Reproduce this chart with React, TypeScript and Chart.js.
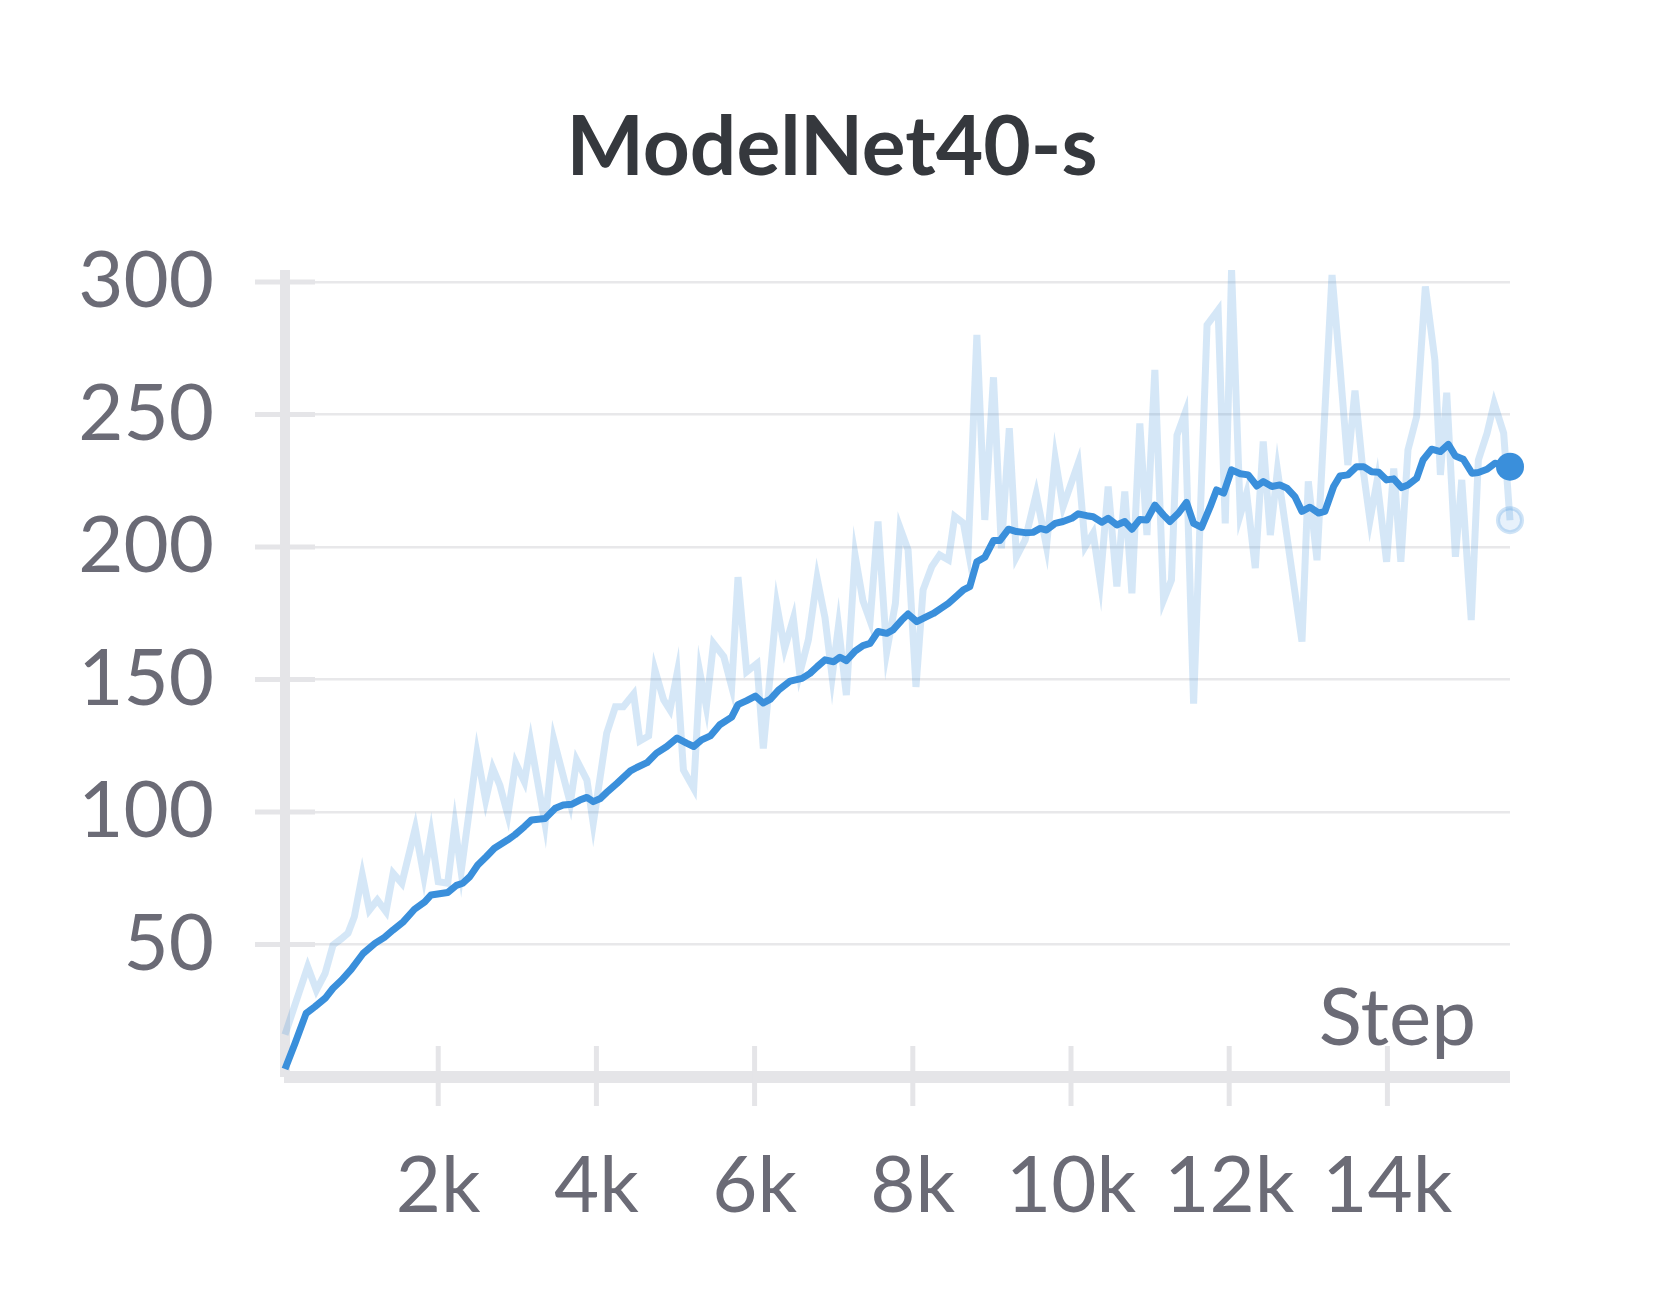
import { useEffect, useRef } from 'react';
import { Chart, registerables } from 'chart.js';

Chart.register(...registerables);

// Raw (unsmoothed) run values
const rawSteps = [
  63, 350, 460, 570, 670, 770, 860, 940, 1040, 1130, 1230, 1340, 1430, 1540, 1710, 1820, 1910, 2000, 2120, 2210,
  2290, 2490, 2600, 2690, 2780, 2880, 2980, 3090, 3170, 3350, 3460, 3670, 3750, 3880, 3960, 4130, 4240, 4340, 4470, 4550,
  4660, 4740, 4850, 4930, 5020, 5100, 5230, 5310, 5390, 5480, 5610, 5710, 5790, 5900, 6030, 6110, 6280, 6380, 6490, 6570,
  6680, 6790, 6890, 6980, 7060, 7160, 7270, 7370, 7460, 7560, 7670, 7780, 7840, 7940, 8040, 8130, 8240, 8340, 8450, 8530,
  8640, 8700, 8810, 8910, 9020, 9120, 9220, 9310, 9420, 9560, 9690, 9800, 9900, 10090, 10180, 10280, 10370, 10470, 10580, 10680,
  10770, 10870, 10960, 11060, 11170, 11270, 11340, 11440, 11550, 11720, 11860, 11950, 12030, 12140, 12220, 12330, 12430, 12520, 12610, 12920,
  13000, 13110, 13300, 13400, 13500, 13590, 13680, 13780, 13870, 13990, 14080, 14170, 14260, 14370, 14480, 14600, 14670, 14750, 14860, 14940,
  15060, 15150, 15260, 15350, 15470, 15550,
];
const rawValues = [
  16, 41.6, 32.8, 39.1, 49.8, 52, 54.3, 60.5, 76.2, 63, 66.8, 62.4, 76.9, 73.1, 93.8, 75.6, 91.6, 73.7, 73.1, 95.1,
  77.5, 122.2, 104.5, 116.5, 110, 98.9, 118.4, 111.4, 126.2, 95.7, 127.4, 103.3, 119.6, 112, 95.7, 129.7, 139.7, 139.7, 144.5, 126.8,
  128.7, 153.6, 142.3, 138.5, 152.3, 115.8, 108.9, 152.3, 139.7, 163.6, 158.6, 147.3, 188.6, 152.9, 156, 124, 178.1, 161.7, 173, 152.3,
  165, 188.2, 173.3, 151.1, 170.1, 144.1, 196.9, 179.7, 172.2, 209.6, 160.5, 178.7, 207.1, 198.9, 147.2, 183.8, 192.6, 197, 195.1, 211.5,
  209, 198.9, 280, 210.2, 264, 199.5, 244.8, 196.3, 202.6, 220, 200.2, 233.4, 215.2, 231.5, 200.2, 205.2, 187, 222.8, 185.1, 220.9,
  182.5, 246.6, 204.5, 266.8, 180, 187.5, 242.2, 250.4, 140.9, 283.8, 289.4, 208.9, 304.5, 212.2, 220.3, 192, 239.8, 204.5, 229, 164.3,
  224.7, 195, 302.6, 268, 230.9, 259, 232, 210.1, 225, 194.4, 229.6, 194.4, 236.6, 249.2, 298.3, 270.6, 227.2, 258.2, 196.3, 225.3,
  172.4, 232.8, 242.9, 254.2, 242.9, 210.1,
];

// Smoothed line
const smoothSteps = [
  63, 190, 330, 440, 570, 670, 780, 900, 1050, 1200, 1320, 1430, 1560, 1700, 1830, 1910, 2120, 2230, 2310, 2400,
  2500, 2610, 2710, 2880, 2970, 3090, 3180, 3350, 3480, 3580, 3690, 3790, 3880, 3960, 4050, 4130, 4260, 4430, 4510, 4640,
  4760, 4890, 5020, 5140, 5230, 5330, 5440, 5560, 5710, 5790, 5900, 6010, 6110, 6200, 6300, 6450, 6600, 6700, 6790, 6890,
  7000, 7080, 7160, 7270, 7370, 7460, 7560, 7670, 7750, 7860, 7940, 8050, 8150, 8260, 8370, 8450, 8560, 8640, 8720, 8810,
  8910, 9020, 9100, 9210, 9310, 9420, 9520, 9610, 9690, 9800, 9900, 10010, 10090, 10200, 10280, 10390, 10470, 10580, 10680, 10770,
  10870, 10960, 11060, 11170, 11250, 11360, 11460, 11550, 11650, 11760, 11840, 11930, 12030, 12140, 12240, 12350, 12430, 12540, 12640, 12730,
  12830, 12920, 13020, 13130, 13210, 13320, 13400, 13500, 13610, 13700, 13800, 13890, 13990, 14080, 14180, 14260, 14370, 14450, 14560, 14670,
  14770, 14860, 14960, 15070, 15150, 15260, 15360, 15550,
];
const smoothValues = [
  3, 12.7, 24, 26.5, 29.7, 33.5, 36.6, 40.6, 46.6, 50.4, 52.7, 55.5, 58.6, 63.3, 66.1, 68.7, 69.6, 72.3, 73.1, 75.6,
  80, 83.2, 86.3, 89.5, 91.4, 94.5, 97, 97.5, 101.4, 102.6, 102.9, 104.5, 105.5, 103.9, 105.1, 107.4, 110.8, 115.5, 116.8, 118.6,
  122.2, 124.7, 127.9, 126, 124.7, 127.2, 128.7, 132.9, 135.8, 140.5, 142, 143.7, 141.1, 142.6, 145.9, 149.4, 150.4, 152.3, 154.8, 157.4,
  156.7, 158.4, 157.1, 160.7, 162.8, 163.6, 168.1, 167.4, 168.7, 172.4, 174.7, 171.8, 173.3, 174.9, 177.1, 178.7, 181.6, 183.8, 185, 194.4,
  196.1, 202.4, 202.4, 206.7, 205.8, 205.4, 205.5, 207, 206.4, 208.9, 209.6, 210.8, 212.5, 211.8, 211.4, 209.3, 210.8, 208.3, 209.6, 206.7,
  210.4, 210.2, 215.8, 212, 209.6, 212.8, 216.8, 208.9, 207.4, 215.2, 221.5, 220.3, 229.1, 227.6, 227.2, 223, 224.7, 222.8, 223.4, 222.2,
  219, 213.4, 215, 212.8, 213.4, 222.8, 226.8, 227.2, 230.3, 230.3, 228.4, 228.2, 225.3, 225.7, 222.4, 223.4, 225.9, 232.8, 236.9, 236,
  238.7, 234.3, 233.1, 227.8, 228.1, 229.3, 231.6, 230.3,
];

const xTickValues = [2000, 4000, 6000, 8000, 10000, 12000, 14000];
const yTickValues = [50, 100, 150, 200, 250, 300];

const TITLE = 'ModelNet40-s';
const BLUE = '#3a8fdb';
const AXIS = '#e5e5e8';
const LABEL = '#6b6b76';
const FONT = 'Lato';

// W&B style axes: thick light lines, tick marks crossing the axis, "Step" inside the plot,
// and the panel title centred on the whole panel
const axesPlugin = {
  id: 'wbAxes',
  beforeDatasetsDraw(chart: Chart) {
    const { ctx, chartArea } = chart;
    const xs = chart.scales.x;
    const ys = chart.scales.y;
    ctx.save();
    ctx.strokeStyle = AXIS;
    ctx.lineCap = 'butt';

    ctx.lineWidth = 10;
    ctx.beginPath();
    ctx.moveTo(chartArea.left, chartArea.top);
    ctx.lineTo(chartArea.left, chartArea.bottom);
    ctx.stroke();

    ctx.lineWidth = 12;
    ctx.beginPath();
    ctx.moveTo(chartArea.left - 1, chartArea.bottom);
    ctx.lineTo(chartArea.right, chartArea.bottom);
    ctx.stroke();

    ctx.lineWidth = 5;
    yTickValues.forEach((v) => {
      const py = ys.getPixelForValue(v);
      ctx.beginPath();
      ctx.moveTo(chartArea.left - 30, py);
      ctx.lineTo(chartArea.left + 30, py);
      ctx.stroke();
    });
    xTickValues.forEach((v) => {
      const px = xs.getPixelForValue(v);
      ctx.beginPath();
      ctx.moveTo(px, chartArea.bottom - 31);
      ctx.lineTo(px, chartArea.bottom + 29);
      ctx.stroke();
    });

    ctx.fillStyle = LABEL;
    ctx.font = `400 80px ${FONT}`;
    ctx.textAlign = 'right';
    ctx.textBaseline = 'alphabetic';
    ctx.fillText('Step', chartArea.right - 34, chartArea.bottom - 32);

    ctx.fillStyle = '#35383d';
    ctx.font = `700 82px ${FONT}`;
    ctx.textAlign = 'center';
    ctx.fillText(TITLE, 832, 175);
    ctx.restore();
  },
};

const App = () => {
  const chartRef = useRef<HTMLCanvasElement>(null);
  const chartInstance = useRef<Chart | null>(null);

  useEffect(() => {
    if (!chartRef.current) return;
    if (chartInstance.current) chartInstance.current.destroy();

    const rawLast = rawValues.length - 1;
    const smoothLast = smoothValues.length - 1;

    chartInstance.current = new Chart(chartRef.current, {
      type: 'line',
      data: {
        datasets: [
          {
            label: 'smoothed',
            data: smoothSteps.map((s, i) => ({ x: s, y: smoothValues[i] })),
            borderColor: BLUE,
            backgroundColor: BLUE,
            borderWidth: 7,
            borderJoinStyle: 'round',
            tension: 0,
            pointRadius: (c: any) => (c.dataIndex === smoothLast ? 14 : 0),
            pointBorderWidth: 0,
            pointBackgroundColor: BLUE,
            clip: 16,
          },
          {
            label: 'raw',
            data: rawSteps.map((s, i) => ({ x: s, y: rawValues[i] })),
            borderColor: 'rgba(58, 143, 219, 0.21)',
            backgroundColor: 'rgba(58, 143, 219, 0.12)',
            borderWidth: 7,
            tension: 0,
            pointRadius: (c: any) => (c.dataIndex === rawLast ? 12 : 0),
            pointBorderWidth: 4,
            pointBorderColor: 'rgba(58, 143, 219, 0.25)',
            pointBackgroundColor: 'rgba(58, 143, 219, 0.12)',
            clip: 16,
          },
        ],
      },
      options: {
        responsive: true,
        maintainAspectRatio: false,
        animation: false,
        layout: { padding: { top: 270, right: 150, bottom: 0, left: 0 } },
        plugins: {
          legend: { display: false },
          tooltip: { enabled: false },
          title: { display: false },
        },
        scales: {
          x: {
            type: 'linear',
            min: 63,
            max: 15550,
            grid: { display: false },
            border: { display: false },
            afterBuildTicks: (scale: any) => {
              scale.ticks = xTickValues.map((v) => ({ value: v }));
            },
            afterFit: (scale: any) => {
              scale.height = 233;
            },
            ticks: {
              color: LABEL,
              font: { family: FONT, size: 78, lineHeight: 1.2 },
              padding: 55,
              maxRotation: 0,
              autoSkip: false,
              callback: (v: any) => `${Number(v) / 1000}k`,
            },
          },
          y: {
            min: 0,
            max: 304.5,
            grid: { color: '#e8e8ea', lineWidth: 2.5, drawTicks: false },
            border: { display: false },
            afterBuildTicks: (scale: any) => {
              scale.ticks = yTickValues.map((v) => ({ value: v }));
            },
            afterFit: (scale: any) => {
              scale.width = 285;
            },
            ticks: {
              color: LABEL,
              font: { family: FONT, size: 78 },
              padding: 71,
              callback: (v: any) => `${v}`,
            },
          },
        },
      },
      plugins: [axesPlugin],
    });

    return () => {
      if (chartInstance.current) {
        chartInstance.current.destroy();
        chartInstance.current = null;
      }
    };
  }, []);

  return (
    <div style={{ position: 'fixed', left: 0, top: 0, width: 1660, height: 1310, background: '#fff' }}>
      <canvas ref={chartRef} />
    </div>
  );
};

export default App;
